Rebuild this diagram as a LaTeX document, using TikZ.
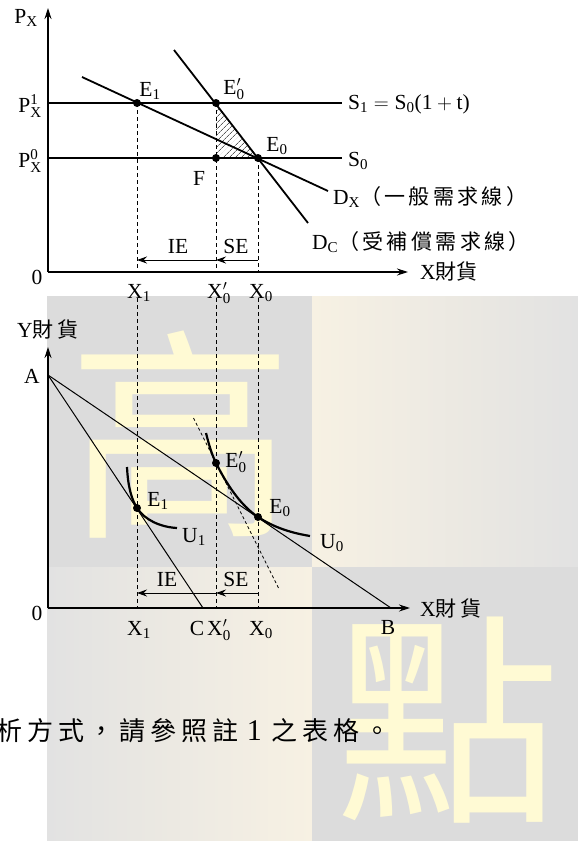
\documentclass[tikz,border=0pt]{standalone}
\usepackage{fontspec}
\usepackage{amsmath}
\setmainfont{Liberation Serif}
\newfontfamily\cjk{Noto Sans CJK TC}
\usetikzlibrary{arrows.meta,patterns.meta}
\definecolor{bggray}{HTML}{DCDCDC}
\definecolor{bgbeige}{HTML}{F7F1E3}
\definecolor{bglight}{HTML}{E2E2E2}
\definecolor{wmyellow}{HTML}{FFFAD4}
\newcommand{\mt}[1]{\text{#1}}
\newcommand{\cjklbl}{\cjk\fontsize{21}{24}\selectfont\addfontfeature{LetterSpace=16}}
\tikzset{
  lbl/.style={inner sep=0pt, font=\fontsize{21.5}{25}\selectfont},
  axis/.style={line width=1.2pt, -{Stealth[length=11pt,width=7pt]}},
  sdline/.style={line width=1.8pt},
  budget/.style={line width=1pt},
  icurve/.style={line width=2.2pt},
  guide/.style={line width=0.9pt, dash pattern=on 4pt off 3pt},
  tangent/.style={line width=0.8pt, dash pattern=on 3pt off 2.5pt},
  effect/.style={line width=1pt, -{Stealth[length=10pt,width=7pt]}},
  dot/.style={circle, fill=black, inner sep=0pt, minimum size=8pt},
  wm/.style={inner sep=0pt, text=wmyellow, font=\cjk\fontsize{225}{225}\selectfont}
}
\begin{document}
\begin{tikzpicture}[x=1pt,y=-1pt]
\useasboundingbox (0,0) rectangle (578,841);
\fill[white] (0,0) rectangle (578,841);
% background quadrants
\fill[bggray] (47,296) rectangle (312,567);
\shade[left color=bgbeige, right color=bglight] (312,296) rectangle (578,567);
\shade[left color=bglight, right color=bgbeige] (47,567) rectangle (312,841);
\fill[bggray] (312,567) rectangle (578,841);
\node[wm] (wmA) at (181,435) {高};
\node[wm] (wmB) at (448,720) {點};

% ---------- top panel ----------
\coordinate (O1) at (48,272);
\coordinate (PY) at (48,8);
\coordinate (PXend) at (408,272);
\coordinate (S1a) at (48,103);
\coordinate (S1b) at (342,103);
\coordinate (S0a) at (48,158);
\coordinate (S0b) at (342,158);
\coordinate (DXa) at (82,77);
\coordinate (DXb) at (328,191);
\coordinate (DCa) at (174,50);
\coordinate (DCb) at (308,223);
\coordinate (E1t) at (137,103);
\coordinate (E0pt) at (216,103);
\coordinate (Ft) at (216,158);
\coordinate (E0t) at (258,158);
\coordinate (X1t) at (137,272);
\coordinate (X0pt) at (216,272);
\coordinate (X0t) at (258,272);
\coordinate (IEa) at (216,260);
\coordinate (IEb) at (137,260);
\coordinate (SEa) at (258,260);
\coordinate (SEb) at (216,260);

\fill[pattern={Lines[angle=45,distance=4pt,line width=0.8pt]}, pattern color=black!65] (E0pt) -- (Ft) -- (E0t) -- cycle;
\draw[guide] (E1t) -- (X1t);
\draw[guide] (E0pt) -- (X0pt);
\draw[guide] (E0t) -- (X0t);
\draw[sdline] (S1a) -- (S1b);
\draw[sdline] (S0a) -- (S0b);
\draw[sdline] (DXa) -- (DXb);
\draw[sdline] (DCa) -- (DCb);
\draw[axis] (O1) -- (PY);
\draw[axis] (O1) -- (PXend);
\draw[effect] (IEa) -- (IEb);
\draw[effect] (SEa) -- (SEb);
\node[dot] (dE1t) at (E1t) {};
\node[dot] (dE0pt) at (E0pt) {};
\node[dot] (dFt) at (Ft) {};
\node[dot] (dE0t) at (E0t) {};

\node[lbl] (lPX) at (26,18) {$\mt{P}_{\mt{X}}$};
\node[lbl] (lP1) at (30,106) {$\mt{P}_{\mt{X}}^{\mt{1}}$};
\node[lbl] (lP0) at (30,161) {$\mt{P}_{\mt{X}}^{\mt{0}}$};
\node[lbl] (l0t) at (37,277) {0};
\node[lbl] (lE1t) at (150,91) {$\mt{E}_{\mt{1}}$};
\node[lbl] (lE0pt) at (234,89) {$\mt{E}'_{\mt{0}}$};
\node[lbl] (lE0t) at (277,146) {$\mt{E}_{\mt{0}}$};
\node[lbl] (lFt) at (199,178) {F};
\node[lbl, anchor=west] (lS1) at (348,104) {$\mt{S}_{\mt{1}} = \mt{S}_{\mt{0}}\mt{(1}+\mt{t)}$};
\node[lbl, anchor=west] (lS0) at (348,161) {$\mt{S}_{\mt{0}}$};
\node[lbl, anchor=west] (lDX) at (333,197) {$\mt{D}_{\mt{X}}${\cjklbl（一般需求線）}};
\node[lbl, anchor=west] (lDC) at (312,242) {$\mt{D}_{\mt{C}}${\cjklbl（受補償需求線）}};
\node[lbl, anchor=west] (lXt) at (420,271) {X{\cjk\fontsize{21}{24}\selectfont 財貨}};
\node[lbl] (lIEt) at (178,246) {IE};
\node[lbl] (lSEt) at (236,246) {SE};
\node[lbl] (lX1t) at (139,293) {$\mt{X}_{\mt{1}}$};
\node[lbl] (lX0pt) at (219,293) {$\mt{X}'_{\mt{0}}$};
\node[lbl] (lX0t) at (261,293) {$\mt{X}_{\mt{0}}$};

% ---------- bottom panel ----------
\coordinate (O2) at (48,608);
\coordinate (YY) at (48,347);
\coordinate (XXend) at (410,608);
\coordinate (A) at (48,375);
\coordinate (B) at (391,608);
\coordinate (C) at (203,608);
\coordinate (E1b) at (137,508);
\coordinate (E0pb) at (216,463);
\coordinate (E0b) at (258,517);
\coordinate (T1) at (193.5,418);
\coordinate (T2) at (279,589);
\coordinate (G1a) at (137,298);
\coordinate (G1b) at (137,608);
\coordinate (G2a) at (216,298);
\coordinate (G2b) at (216,608);
\coordinate (G3a) at (258,298);
\coordinate (G3b) at (258,608);
\coordinate (IEc) at (216,593);
\coordinate (IEd) at (137,593);
\coordinate (SEc) at (258,593);
\coordinate (SEd) at (216,593);
\coordinate (U1s) at (127,467);
\coordinate (U1e) at (177,528);
\coordinate (U0s) at (206,433);
\coordinate (U0e) at (310,536);

\draw[guide] (G1a) -- (G1b);
\draw[guide] (G2a) -- (G2b);
\draw[guide] (G3a) -- (G3b);
\draw[budget] (A) -- (C);
\draw[budget] (A) -- (B);
\draw[tangent] (T1) -- (T2);
\draw[icurve] (U1s) .. controls (128,488) and (132,500) .. (E1b)
  .. controls (145,520) and (160,527) .. (U1e);
\draw[icurve] (U0s) .. controls (209,445) and (212,455) .. (E0pb)
  .. controls (226,483) and (240,505) .. (E0b)
  .. controls (275,528) and (292,533) .. (U0e);
\draw[axis] (O2) -- (YY);
\draw[axis] (O2) -- (XXend);
\draw[effect] (IEc) -- (IEd);
\draw[effect] (SEc) -- (SEd);
\node[dot] (dE1b) at (E1b) {};
\node[dot] (dE0pb) at (E0pb) {};
\node[dot] (dE0b) at (E0b) {};

\node[lbl, anchor=west] (lY) at (17,329) {Y{\cjk\fontsize{21}{24}\selectfont 財\,貨}};
\node[lbl] (lA) at (32,376) {A};
\node[lbl] (l0b) at (37,613) {0};
\node[lbl] (lE1b) at (158,501) {$\mt{E}_{\mt{1}}$};
\node[lbl] (lE0pb) at (236,462) {$\mt{E}'_{\mt{0}}$};
\node[lbl] (lE0b) at (280,508) {$\mt{E}_{\mt{0}}$};
\node[lbl] (lU1) at (194,537) {$\mt{U}_{\mt{1}}$};
\node[lbl] (lU0) at (332,543) {$\mt{U}_{\mt{0}}$};
\node[lbl] (lIEb) at (167,579) {IE};
\node[lbl] (lSEb) at (236,579) {SE};
\node[lbl] (lX1b) at (139,630) {$\mt{X}_{\mt{1}}$};
\node[lbl] (lCb) at (197,628) {C};
\node[lbl] (lX0pb) at (219,630) {$\mt{X}'_{\mt{0}}$};
\node[lbl] (lX0b) at (261,630) {$\mt{X}_{\mt{0}}$};
\node[lbl] (lB) at (388,627) {B};
\node[lbl, anchor=west] (lXb) at (420,608) {X{\cjk\fontsize{21}{24}\selectfont 財\,貨}};

% bottom text
\node[inner sep=0pt, anchor=west, font=\fontsize{26}{30}\selectfont] (note) at (-4,731)
  {{\cjk\addfontfeature{LetterSpace=19}析方式，請參照註}\hspace{8pt}{\fontsize{30}{30}\selectfont 1}\hspace{10pt}{\cjk\addfontfeature{LetterSpace=19}之表格。}};
\end{tikzpicture}
\end{document}
